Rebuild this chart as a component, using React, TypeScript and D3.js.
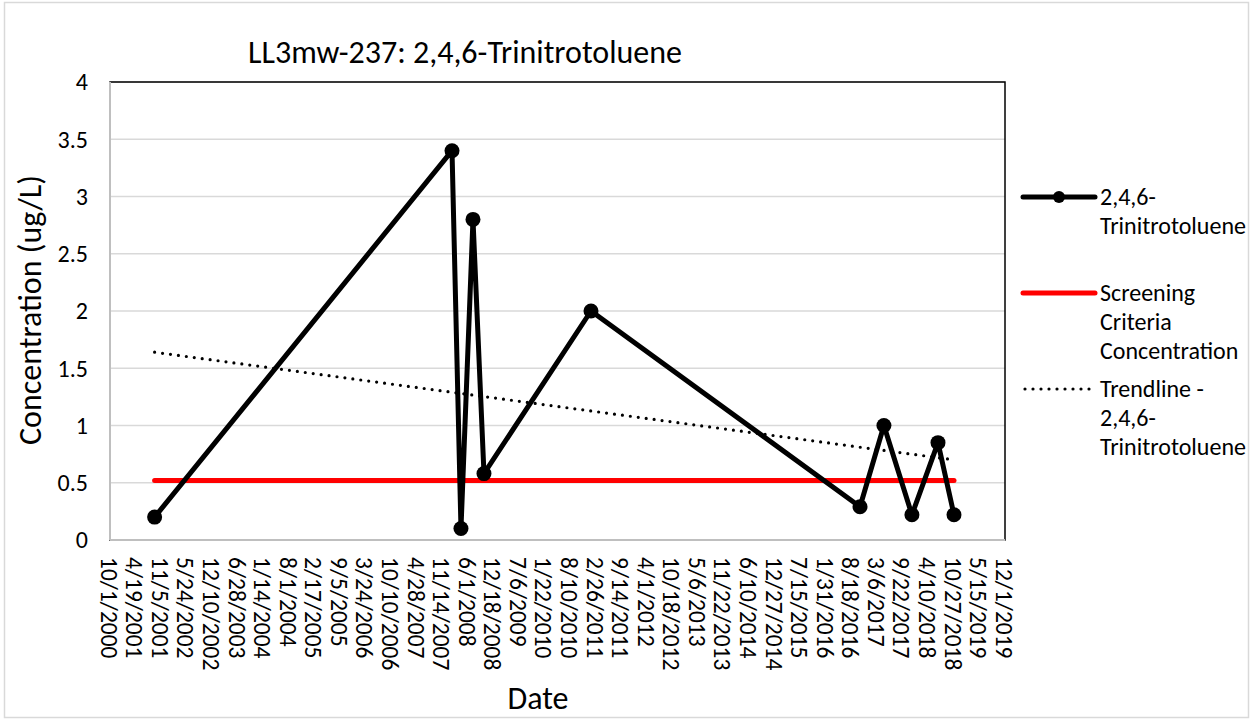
import React from "react";
import * as d3 from "d3";

const sampleDates = [
  "2001-09-15", "2008-01-28", "2008-04-07", "2008-07-10", "2008-10-04",
  "2011-01-19", "2016-10-23", "2017-04-28", "2017-12-03", "2018-06-25", "2018-10-28",
];
const tntValues = [0.2, 3.4, 0.1, 2.8, 0.58, 2.0, 0.29, 1.0, 0.22, 0.85, 0.22];
const screeningValue = 0.52;
const trendValues = [1.64, 0.7]; // at first and last sample dates
const xTickLabels = [
  "10/1/2000", "4/19/2001", "11/5/2001", "5/24/2002", "12/10/2002", "6/28/2003",
  "1/14/2004", "8/1/2004", "2/17/2005", "9/5/2005", "3/24/2006", "10/10/2006",
  "4/28/2007", "11/14/2007", "6/1/2008", "12/18/2008", "7/6/2009", "1/22/2010",
  "8/10/2010", "2/26/2011", "9/14/2011", "4/1/2012", "10/18/2012", "5/6/2013",
  "11/22/2013", "6/10/2014", "12/27/2014", "7/15/2015", "1/31/2016", "8/18/2016",
  "3/6/2017", "9/22/2017", "4/10/2018", "10/27/2018", "5/15/2019", "12/1/2019",
];
const yTicks = [0, 0.5, 1, 1.5, 2, 2.5, 3, 3.5, 4];
const titleText = "LL3mw-237: 2,4,6-Trinitrotoluene";
const yTitle = "Concentration (ug/L)";
const xTitle = "Date";
const legendSeries = ["2,4,6-|Trinitrotoluene", "Screening|Criteria|Concentration", "Trendline -|2,4,6-|Trinitrotoluene"];

const FONT = "Calibri, Carlito, Lato, sans-serif";

const parseMDY = (s: string) => {
  const [m, d, y] = s.split("/").map(Number);
  return new Date(Date.UTC(y, m - 1, d));
};
const parseISO = (s: string) => {
  const [y, m, d] = s.split("-").map(Number);
  return new Date(Date.UTC(y, m - 1, d));
};

export default function App() {
  const W = 1252, H = 719;
  const left = 110, right = 1005, top = 82, bottom = 540;
  const tickDates = xTickLabels.map(parseMDY);
  const x = d3.scaleUtc().domain([tickDates[0], tickDates[tickDates.length - 1]]).range([left, right]);
  const y = d3.scaleLinear().domain([0, 4]).range([bottom, top]);
  const dates = sampleDates.map(parseISO);
  const pts = dates.map((d, i) => [x(d), y(tntValues[i])] as [number, number]);
  const line = d3.line<[number, number]>();
  const d0 = dates[0], d1 = dates[dates.length - 1];

  const legendX1 = 1023, legendX2 = 1095, legendTX = 1100;
  const legendY = [197, 293, 389];
  const lh = 29;

  return (
    <svg width={W} height={H} style={{ position: "absolute", left: 0, top: 0, background: "#fff" }} fontFamily={FONT}>
      <rect x={0} y={0} width={W} height={H} fill="#fff" />
      <rect x={4.5} y={2.5} width={W - 8} height={H - 4} fill="none" stroke="#d9d9d9" strokeWidth={1.5} />
      {/* gridlines */}
      {yTicks.slice(1).map((t) => (
        <line key={t} x1={left} x2={right} y1={y(t)} y2={y(t)} stroke="#d9d9d9" strokeWidth={1.5} />
      ))}
      {/* plot border */}
      <rect x={left} y={top} width={right - left} height={bottom - top} fill="none" stroke="#000" strokeWidth={1.5} />
      <line x1={left} x2={left} y1={top} y2={bottom} stroke="#bfbfbf" strokeWidth={2} />
      <line x1={left} x2={right} y1={bottom} y2={bottom} stroke="#bfbfbf" strokeWidth={2} />
      {/* y tick labels */}
      {yTicks.map((t) => (
        <text key={t} x={88} y={y(t)} dy="0.35em" textAnchor="end" fontSize={24} fill="#000">
          {t}
        </text>
      ))}
      {/* x tick labels */}
      {tickDates.map((d, i) => (
        <text key={i} transform={`translate(${x(d) - 1},557) rotate(90)`} dy="0.35em" textAnchor="start" fontSize={23.5} fill="#000">
          {xTickLabels[i]}
        </text>
      ))}
      {/* screening line */}
      <line x1={x(d0)} x2={x(d1)} y1={y(screeningValue)} y2={y(screeningValue)} stroke="#ff0000" strokeWidth={5} strokeLinecap="round" />
      {/* trendline */}
      <line x1={x(d0)} x2={x(d1)} y1={y(trendValues[0])} y2={y(trendValues[1])} stroke="#000" strokeWidth={3.2} strokeDasharray="0 8" strokeLinecap="round" />
      {/* series */}
      <path d={line(pts) || ""} fill="none" stroke="#000" strokeWidth={5} strokeLinejoin="round" />
      {pts.map((p, i) => (
        <circle key={i} cx={p[0]} cy={p[1]} r={7.5} fill="#000" />
      ))}
      {/* title */}
      <text x={465} y={52} dy="0.35em" textAnchor="middle" fontSize={32} fill="#000">{titleText}</text>
      <text transform={`translate(30,310) rotate(-90)`} dy="0.35em" textAnchor="middle" fontSize={32} fill="#000">{yTitle}</text>
      <text x={538} y={698} dy="0.35em" textAnchor="middle" fontSize={32} fill="#000">{xTitle}</text>
      {/* legend */}
      <line x1={legendX1} x2={legendX2} y1={legendY[0]} y2={legendY[0]} stroke="#000" strokeWidth={5} strokeLinecap="round" />
      <circle cx={(legendX1 + legendX2) / 2} cy={legendY[0]} r={6} fill="#000" />
      <line x1={legendX1} x2={legendX2} y1={legendY[1]} y2={legendY[1]} stroke="#ff0000" strokeWidth={5} strokeLinecap="round" />
      <line x1={legendX1 + 2} x2={legendX2} y1={legendY[2]} y2={legendY[2]} stroke="#000" strokeWidth={3.2} strokeDasharray="0 8" strokeLinecap="round" />
      {legendSeries.map((s, i) => (
        <text key={i} x={legendTX} y={legendY[i]} fontSize={24} fill="#000">
          {s.split("|").map((ln, j) => (
            <tspan key={j} x={legendTX} y={legendY[i] + j * lh} dy="0.35em">{ln}</tspan>
          ))}
        </text>
      ))}
    </svg>
  );
}
